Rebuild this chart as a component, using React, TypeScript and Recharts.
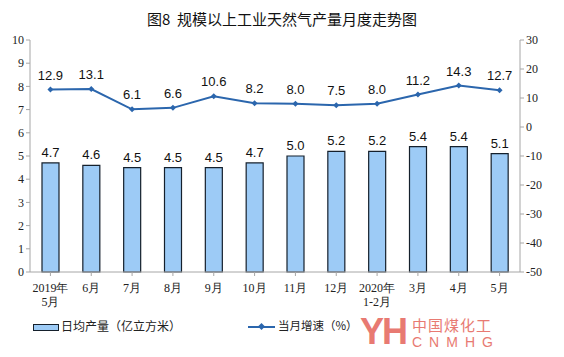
import React from 'react';
import {
    ComposedChart, Bar, Line, XAxis, YAxis, LabelList
} from 'recharts';

const months = ['2019年|5月', '6月', '7月', '8月', '9月', '10月', '11月', '12月', '2020年|1-2月', '3月', '4月', '5月'];
const dailyOutput = [4.7, 4.6, 4.5, 4.5, 4.5, 4.7, 5.0, 5.2, 5.2, 5.4, 5.4, 5.1];
const growthRate = [12.9, 13.1, 6.1, 6.6, 10.6, 8.2, 8.0, 7.5, 8.0, 11.2, 14.3, 12.7];
const leftTicks = [0, 1, 2, 3, 4, 5, 6, 7, 8, 9, 10];
const rightTicks = [-50, -40, -30, -20, -10, 0, 10, 20, 30];

const data = months.map((m, i) => ({ name: m, output: dailyOutput[i], rate: growthRate[i] }));

const serif = '"Liberation Serif", "DejaVu Serif", serif';
const sans = '"Liberation Sans", Arial, sans-serif';
const cjk = '"Noto Sans CJK SC", sans-serif';
const axisColor = '#a6a6a6';
const lineColor = '#2b66ad';

const MonthTick = (props: any) => {
    const { x, y, payload } = props;
    const parts = String(payload.value).split('|');
    return (
        <text x={x} y={y + 14} textAnchor="middle" fontSize={12} fill="#222" fontFamily={serif}>
            {parts.map((p, i) => (
                <tspan key={i} x={x} dy={i === 0 ? 0 : 14}>{p}</tspan>
            ))}
        </text>
    );
};

const Diamond = (props: any) => {
    const { cx, cy } = props;
    if (cx == null || cy == null) return null;
    return <path d={`M${cx},${cy - 3}L${cx + 3},${cy}L${cx},${cy + 3}L${cx - 3},${cy}Z`} fill={lineColor} />;
};

export default function App() {
    return (
        <div style={{ position: 'absolute', left: 0, top: 0, width: 564, height: 357, background: '#fff', overflow: 'hidden' }}>
            <div style={{ position: 'absolute', top: 8, width: 564, textAlign: 'center', fontFamily: cjk, fontSize: 15, color: '#111' }}>
                图8&nbsp;&nbsp;规模以上工业天然气产量月度走势图
            </div>
            <ComposedChart width={564} height={357} data={data} margin={{ top: 40, right: 0, bottom: 45, left: 0 }}>
                <XAxis dataKey="name" interval={0} tick={<MonthTick />} height={40}
                    stroke={axisColor} tickLine={{ stroke: axisColor }} tickSize={4} />
                <YAxis yAxisId="left" domain={[0, 10]} ticks={leftTicks} width={30}
                    stroke={axisColor} tickSize={4}
                    tick={{ fontSize: 12, fill: '#222', fontFamily: serif }} />
                <YAxis yAxisId="right" orientation="right" domain={[-50, 30]} ticks={rightTicks} width={44}
                    stroke={axisColor} tickSize={4}
                    tick={{ fontSize: 12, fill: '#222', fontFamily: serif }} />
                <Bar yAxisId="left" dataKey="output" barSize={17} fill="#9dcbf6" stroke="#15202c" strokeWidth={1.2} isAnimationActive={false}>
                    <LabelList dataKey="output" position="top" offset={6} fontSize={13} fill="#111" fontFamily={sans}
                        formatter={(v: any) => Number(v).toFixed(1)} />
                </Bar>
                <Line yAxisId="right" dataKey="rate" stroke={lineColor} strokeWidth={2} dot={<Diamond />} isAnimationActive={false}>
                    <LabelList dataKey="rate" position="top" offset={10} fontSize={13} fill="#111" fontFamily={sans}
                        formatter={(v: any) => Number(v).toFixed(1)} />
                </Line>
            </ComposedChart>
            <div style={{ position: 'absolute', left: 33, top: 324, width: 24, height: 5, background: '#9dcbf6', border: '1.5px solid #15202c' }} />
            <div style={{ position: 'absolute', left: 61, top: 317, fontFamily: cjk, fontSize: 12, color: '#222' }}>日均产量（亿立方米）</div>
            <div style={{ position: 'absolute', left: 248, top: 326, width: 27, height: 2, background: lineColor }} />
            <div style={{ position: 'absolute', left: 259, top: 324, width: 5, height: 5, background: lineColor, transform: 'rotate(45deg)' }} />
            <div style={{ position: 'absolute', left: 278, top: 317, fontFamily: cjk, fontSize: 11.5, color: '#222' }}>当月增速（%）</div>
            <div style={{ position: 'absolute', left: 360, top: 312, fontFamily: sans, fontSize: 36, fontWeight: 700, color: '#e87a72', letterSpacing: -2, lineHeight: '40px' }}>YH</div>
            <div style={{ position: 'absolute', left: 412, top: 314, fontFamily: cjk, fontSize: 15, color: '#e87a72', letterSpacing: 1 }}>中国煤化工</div>
            <div style={{ position: 'absolute', left: 412, top: 334, fontFamily: sans, fontSize: 14, color: '#e87a72', letterSpacing: 7 }}>CNMHG</div>
        </div>
    );
}
